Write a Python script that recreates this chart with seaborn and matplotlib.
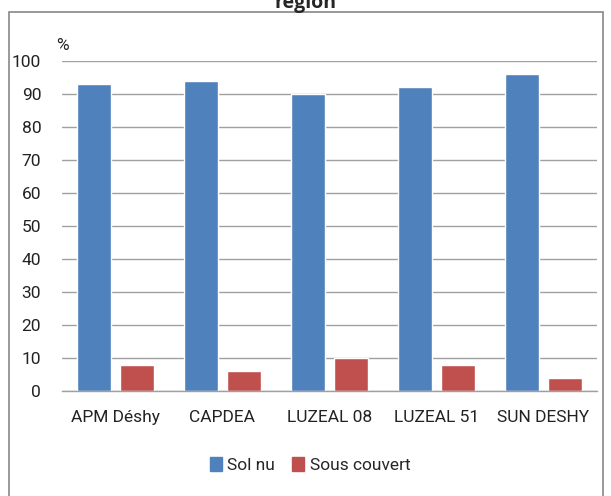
import matplotlib
matplotlib.use("Agg")
import matplotlib.pyplot as plt
import seaborn as sns
import pandas as pd
from matplotlib.patches import Rectangle

categories = ["APM Déshy", "CAPDEA", "LUZEAL 08", "LUZEAL 51", "SUN DESHY"]
sol_nu = [93, 94, 90, 92, 96]
sous_couvert = [8, 6, 10, 8, 4]
series_names = ["Sol nu", "Sous couvert"]
yticks = [0, 10, 20, 30, 40, 50, 60, 70, 80, 90, 100]

df = pd.DataFrame({
    "cat": categories * 2,
    "val": sol_nu + sous_couvert,
    "serie": [series_names[0]] * len(categories) + [series_names[1]] * len(categories),
})

sns.set_style("white")
font = ["Roboto", "DejaVu Sans"]
plt.rcParams["font.family"] = font

W, H = 611, 496
fig = plt.figure(figsize=(W / 100, H / 100), dpi=100)
ax = fig.add_axes([62 / W, 1 - 391 / H, (597 - 62) / W, (391 - 61) / H])

sns.barplot(data=df, x="cat", y="val", hue="serie", palette=["#4F81BD", "#C0504D"],
            width=0.8, gap=0.2, ax=ax, legend=False, saturation=1)

fs = 12.5
ax.set_ylim(0, 100)
ax.set_yticks(yticks)
ax.set_yticklabels([str(v) for v in yticks], fontsize=fs, color="#222222")
ax.set_xlabel("")
ax.set_ylabel("")
ax.set_xlim(-0.5, 4.5)
ax.tick_params(axis="x", length=0, pad=14, labelsize=fs, colors="#222222")
ax.tick_params(axis="y", length=5, width=1, color="#A0A0A0", pad=10)
ax.yaxis.grid(True, color="#A0A0A0", linewidth=1)
ax.set_axisbelow(True)
for s in ["top", "right", "left"]:
    ax.spines[s].set_visible(False)
ax.spines["bottom"].set_color("#A0A0A0")
ax.spines["bottom"].set_linewidth(1)

fig.text(62 / W, 1 - 45 / H, "%", fontsize=fs, ha="center", va="center", color="#222222")
fig.text(305 / W, 1 - 3 / H, "région", fontsize=14, fontweight="bold", ha="center", va="center",
         family=["Open Sans", "DejaVu Sans"])

fig.patches.append(Rectangle((9 / W, -0.05), (603 - 9) / W, 1.05 - 12 / H,
                             transform=fig.transFigure, fill=False, edgecolor="#888888",
                             linewidth=1.2))

# legend
handles = [Rectangle((0, 0), 1, 1, color=c) for c in ["#4F81BD", "#C0504D"]]
fig.legend(handles, series_names, loc="center", bbox_to_anchor=(310 / W, 1 - 465 / H),
           ncol=2, frameon=False, fontsize=fs, handlelength=0.7, handleheight=0.9,
           handletextpad=0.3, columnspacing=1.0)

fig.savefig("out.png", dpi=100)
